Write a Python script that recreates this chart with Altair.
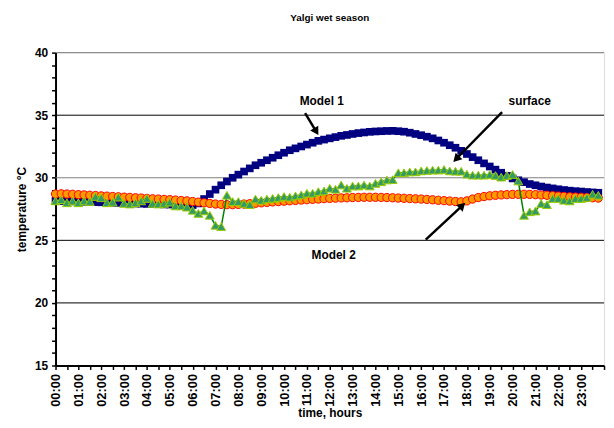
import altair as alt
import pandas as pd

# time of day in hours, 15-minute steps
hours = [h / 4 for h in range(96)]

model1 = [28.15, 28.14, 28.12, 28.11, 28.1, 28.08, 28.07, 28.05, 28.04, 28.02, 28.0, 27.99,
          27.97, 27.96, 27.94, 27.93, 27.91, 27.9, 27.89, 27.87, 27.86, 27.85, 27.84, 27.83,
          27.82, 27.95, 28.3, 28.7, 29.05, 29.4, 29.7, 30.0, 30.25, 30.5, 30.75, 31.0,
          31.2, 31.4, 31.6, 31.8, 32.0, 32.2, 32.35, 32.5, 32.65, 32.8, 32.95, 33.05,
          33.15, 33.25, 33.35, 33.42, 33.5, 33.57, 33.62, 33.67, 33.7, 33.72, 33.74, 33.75,
          33.72, 33.68, 33.6, 33.5, 33.4, 33.28, 33.15, 32.98, 32.8, 32.6, 32.4, 32.15,
          31.9, 31.65, 31.4, 31.15, 30.9, 30.65, 30.4, 30.15, 29.95, 29.8, 29.65, 29.5,
          29.4, 29.3, 29.22, 29.15, 29.08, 29.02, 28.97, 28.93, 28.9, 28.86, 28.83, 28.8]

model2 = [28.7, 28.72, 28.7, 28.68, 28.65, 28.63, 28.6, 28.58, 28.55, 28.53, 28.5, 28.48,
          28.45, 28.43, 28.4, 28.38, 28.35, 28.32, 28.3, 28.27, 28.25, 28.22, 28.18, 28.15,
          28.1, 28.05, 28.0, 27.95, 27.9, 27.87, 27.85, 27.85, 27.87, 27.9, 27.93, 27.96,
          28.0, 28.03, 28.07, 28.1, 28.13, 28.16, 28.19, 28.22, 28.25, 28.28, 28.3, 28.33,
          28.35, 28.37, 28.39, 28.4, 28.42, 28.43, 28.44, 28.44, 28.44, 28.43, 28.42, 28.4,
          28.38, 28.36, 28.34, 28.32, 28.3, 28.27, 28.24, 28.2, 28.17, 28.14, 28.1, 28.08,
          28.15, 28.3, 28.42, 28.5, 28.56, 28.6, 28.63, 28.65, 28.67, 28.68, 28.68, 28.67,
          28.65, 28.62, 28.6, 28.57, 28.54, 28.51, 28.48, 28.46, 28.44, 28.42, 28.4, 28.38]

surface = [28.15, 28.25, 28.0, 28.15, 28.0, 28.15, 28.1, 28.5, 28.4, 28.0, 28.05, 28.45,
           27.95, 27.9, 28.0, 28.15, 28.35, 27.95, 27.9, 27.95, 28.05, 27.75, 27.75, 27.65,
           27.4, 27.15, 27.35, 27.0, 26.2, 26.1, 28.6, 28.1, 28.1, 27.95, 27.85, 28.3,
           28.2, 28.3, 28.35, 28.42, 28.5, 28.45, 28.55, 28.63, 28.76, 28.76, 28.89, 28.95,
           29.16, 29.08, 29.42, 29.16, 29.34, 29.34, 29.42, 29.34, 29.55, 29.68, 29.82, 29.85,
           30.4, 30.4, 30.47, 30.47, 30.55, 30.58, 30.61, 30.61, 30.66, 30.55, 30.52, 30.52,
           30.29, 30.21, 30.21, 30.21, 30.26, 30.18, 30.05, 30.18, 30.26, 29.74, 27.0, 27.28,
           27.34, 27.94, 27.85, 28.34, 28.34, 28.2, 28.15, 28.34, 28.34, 28.42, 28.68, 28.6]

# gridlines
grid_vals = [20, 25, 30, 35, 40]
grid_cols = ["#000000", "#000000", "#808080", "#000000", "#808080"]

# annotations (data units)
ann_text = ["Model 1", "surface", "Model 2"]
ann_x = [11.65, 20.75, 12.17]
ann_y = [36.12, 36.12, 23.86]
arr_x1 = [10.92, 19.54, 16.2]
arr_y1 = [35.17, 35.25, 25.05]
arr_x2 = [11.41, 17.53, 17.8]
arr_y2 = [33.69, 31.5, 27.78]
head_angle = [149, 224, 46]

FONT = "Liberation Sans"
XS = alt.Scale(domain=[0, 24], nice=False, zero=False)
YS = alt.Scale(domain=[15, 40], nice=False, zero=False)

df = pd.DataFrame({"h": hours, "m1": model1, "m2": model2, "s": surface})
gdf = pd.DataFrame({"v": grid_vals, "c": grid_cols})
adf = pd.DataFrame({"t": ann_text, "x": ann_x, "y": ann_y, "x1": arr_x1, "y1": arr_y1,
                    "x2": arr_x2, "y2": arr_y2, "a": head_angle})

x_ticks = [i / 2 for i in range(49)]
y_ticks = list(range(15, 41))

x_axis = alt.Axis(
    values=x_ticks, labelAngle=270, labelAlign="right", labelBaseline="middle",
    labelExpr="datum.value % 1 == 0 && datum.value < 24 ? (datum.value < 10 ? '0' : '') + datum.value + ':00' : ''",
    labelFont=FONT, labelFontSize=13, labelFontWeight="bold", labelColor="#000",
    labelOverlap=False, labelFlush=False, labelPadding=4,
    tickSize=4, tickColor="#000", tickWidth=1.5, domainColor="#000", domainWidth=2,
    grid=False, title="time, hours", titleFont=FONT, titleFontSize=12,
    titleFontWeight="bold", titleColor="#000", titlePadding=1,
)
y_axis = alt.Axis(
    values=y_ticks,
    labelExpr="datum.value % 5 == 0 ? datum.value : ''",
    labelFont=FONT, labelFontSize=12, labelFontWeight="bold", labelColor="#000",
    labelOverlap=False, labelFlush=False, labelPadding=4,
    tickSize=4, tickColor="#000", tickWidth=1.5, domainColor="#000", domainWidth=2,
    grid=False, title="temperature °C", titleFont=FONT, titleFontSize=12,
    titleFontWeight="bold", titleColor="#000", titlePadding=6,
)


def X(field):
    return alt.X(field, scale=XS, axis=x_axis)


def Y(field):
    return alt.Y(field, scale=YS, axis=y_axis)


base = alt.Chart(df)

grid = alt.Chart(gdf).mark_rule(strokeWidth=1).encode(
    y=Y("v:Q"),
    color=alt.Color("c:N", scale=None),
)

m1_line = base.mark_line(color="#000080", strokeWidth=1).encode(x=X("h:Q"), y=Y("m1:Q"))
m1_pts = base.mark_point(shape="square", filled=True, size=60, color="#000080", opacity=1).encode(
    x=X("h:Q"), y=Y("m1:Q"))

m2_line = base.mark_line(color="#FF0000", strokeWidth=1).encode(x=X("h:Q"), y=Y("m2:Q"))
m2_pts = base.mark_point(shape="circle", filled=True, size=70, fill="#FF9900",
                         stroke="#FF0000", strokeWidth=1, opacity=1).encode(
    x=X("h:Q"), y=Y("m2:Q"))

s_line = base.mark_line(color="#008000", strokeWidth=1.5).encode(x=X("h:Q"), y=Y("s:Q"))
s_pts = base.mark_point(shape="triangle-up", filled=True, size=80, fill="#339966",
                        stroke="#99CC00", strokeWidth=1, opacity=1).encode(
    x=X("h:Q"), y=Y("s:Q"))

ann = alt.Chart(adf)
arrows = ann.mark_rule(color="#000", strokeWidth=2.5).encode(
    x=X("x1:Q"), y=Y("y1:Q"), x2="x2:Q", y2="y2:Q")
heads = ann.mark_point(shape="triangle-up", filled=True, size=90, color="#000", opacity=1).encode(
    x=X("x2:Q"), y=Y("y2:Q"), angle=alt.Angle("a:Q", scale=None))
texts = ann.mark_text(font=FONT, fontSize=12, fontWeight="bold", color="#000").encode(
    x=X("x:Q"), y=Y("y:Q"), text="t:N")

chart = alt.layer(grid, m1_line, m1_pts, m2_line, m2_pts, s_line, s_pts, arrows, heads, texts).properties(
    width=554, height=316,
    padding={"left": 48, "top": 43, "right": 2, "bottom": 53},
    autosize=alt.AutoSizeParams(type="none"),
    title=alt.Title("Yalgi wet season", font=FONT, fontSize=10, fontWeight="bold",
                    color="#000", anchor="middle", offset=24),
).configure_view(stroke="#808080", strokeWidth=1).configure(background="#ffffff")

chart.save("out.html", embed_options={"renderer": "svg", "actions": False})
